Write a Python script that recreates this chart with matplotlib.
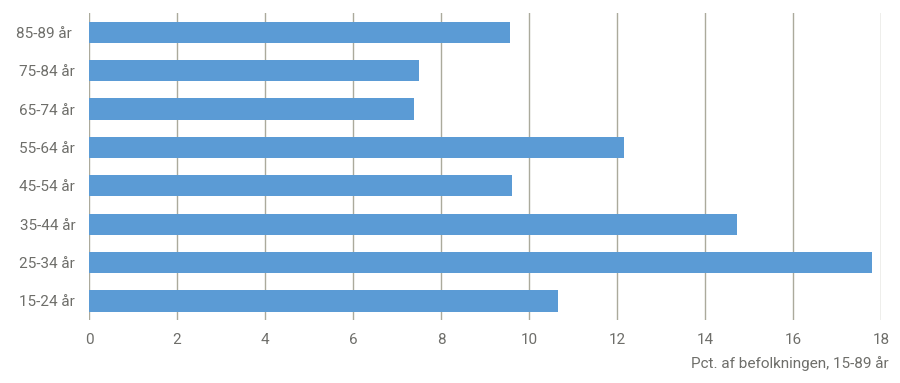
import matplotlib
matplotlib.use("Agg")
import matplotlib.pyplot as plt

# age groups, bottom to top
age_groups = ["15-24 år", "25-34 år", "35-44 år", "45-54 år",
              "55-64 år", "65-74 år", "75-84 år", "85-89 år "]
pct = [10.65, 17.8, 14.72, 9.6, 12.15, 7.39, 7.5, 9.57]
xticks = [0, 2, 4, 6, 8, 10, 12, 14, 16, 18]

plt.rcParams['font.family'] = ['Roboto', 'DejaVu Sans']

fig = plt.figure(figsize=(9, 3.83), dpi=100)
ax = fig.add_axes([0.099, 0.164, 0.88, 0.802])

ax.barh(range(len(age_groups)), pct, height=0.55, color="#5B9BD5", zorder=2)

ax.set_xlim(0, 18)
ax.set_ylim(-0.5, len(age_groups) - 0.5)
ax.set_xticks(xticks)
ax.set_yticks(range(len(age_groups)))
ax.set_yticklabels(age_groups)

ax.grid(axis="x", color="#ABAA9C", linewidth=1.0, zorder=0)
for s in ax.spines.values():
    s.set_visible(False)
ax.tick_params(axis="both", length=0, labelsize=11, colors="#6E6E6A")
ax.tick_params(axis="x", pad=9)
ax.tick_params(axis="y", pad=10)

fig.text(0.987, 0.032, "Pct. af befolkningen, 15-89 år", ha="right", va="bottom",
         fontsize=11, color="#6E6E6A")

fig.savefig("out.png", dpi=100)
